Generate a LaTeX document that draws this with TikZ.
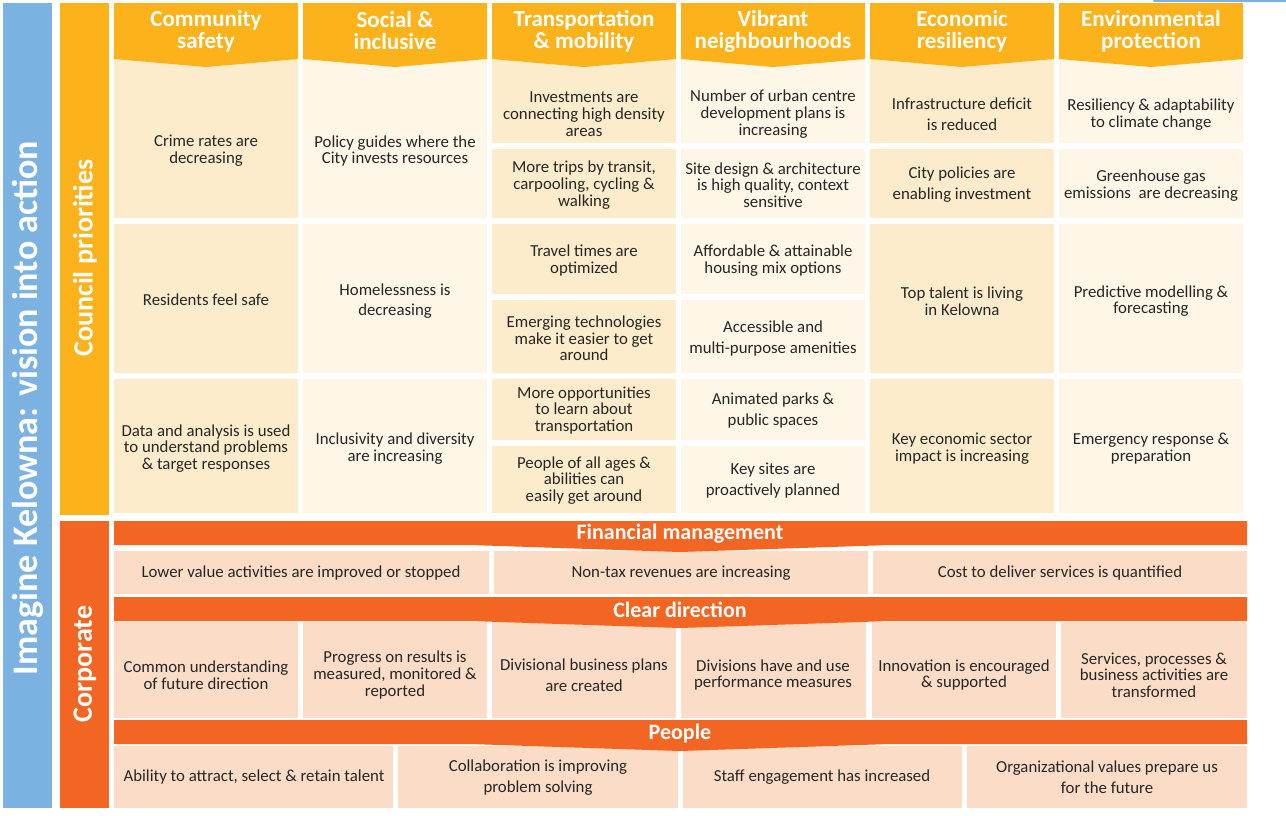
\documentclass[tikz,border=0pt]{standalone}
\usepackage{fontspec}
\setmainfont{Carlito}
\usepackage{tikz}
\usetikzlibrary{positioning}
\definecolor{kblue}{RGB}{123,178,226}
\definecolor{kgold}{RGB}{251,178,27}
\definecolor{korange}{RGB}{242,101,34}
\definecolor{creamdark}{RGB}{253,236,203}
\definecolor{creamlight}{RGB}{254,246,231}
\definecolor{peach}{RGB}{251,220,198}
\definecolor{inkgray}{RGB}{38,38,38}

\tikzset{
  txt/.style={inner sep=0pt, align=center, text=inkgray, font=\fontsize{16.8}{16.7}\selectfont},
  loose/.style={txt, font=\fontsize{16.8}{21}\selectfont},
  headtext/.style={inner sep=0pt, align=center, text=white, font=\bfseries\fontsize{23}{22}\selectfont},
  bandtext/.style={inner sep=0pt, text=white, font=\bfseries\fontsize{22}{22}\selectfont},
  sidetext/.style={inner sep=0pt, text=white, rotate=90, font=\bfseries\fontsize{28}{28}\selectfont},
}

\begin{document}
\begin{tikzpicture}[x=1pt, y=-1pt]
  \useasboundingbox[fill=white] (0,0) rectangle (1286,815);

  % side bars
  \fill[kblue] (3,3) rectangle (52,808);
  \fill[kblue, rounded corners=2pt] (1153,-3) rectangle (1290,2);
  \fill[kgold] (60,3) rectangle (109,515);
  \fill[korange] (60,521) rectangle (109,808);
  \node[sidetext, font=\bfseries\fontsize{36}{36}\selectfont] (vision) at (28,408) {Imagine Kelowna: vision into action};
  \node[sidetext] (council) at (85,258) {Council priorities};
  \node[sidetext] (corporate) at (85,664) {Corporate};

  % council priority cells
  \foreach \x/\c in {114/creamdark, 303/creamlight, 492/creamdark, 681/creamlight, 870/creamdark, 1059/creamlight} {
    \fill[\c] (\x,58) rectangle ++(184,160);
    \fill[\c] (\x,224) rectangle ++(184,149);
    \fill[\c] (\x,379) rectangle ++(184,134);
  }
  % white splits
  \foreach \x in {492, 681, 870, 1059}
    \fill[white] (\x,143) rectangle ++(184,6);
  \foreach \x in {492, 681} {
    \fill[white] (\x,294) rectangle ++(184,6);
    \fill[white] (\x,440) rectangle ++(184,6);
  }

  % headers
  \foreach \x/\name/\t in {114/hsafety/{Community\\safety}, 303/hsocial/{Social \&\\inclusive},
      492/htransport/{Transportation\\\& mobility}, 681/hvibrant/{Vibrant\\neighbourhoods},
      870/heconomic/{Economic\\resiliency}, 1059/henviron/{Environmental\\protection}} {
    \fill[kgold] (\x,3) -- ++(184,0) -- ++(0,56) -- ++(-92,8) -- ++(-92,-8) -- cycle;
    \node[headtext] (\name) at (\x+92,31) {\t};
  }

  % row A
  \node[txt] (crime) at (206,151) {Crime rates are\\decreasing};
  \node[txt] (policy) at (395,151) {Policy guides where the\\City invests resources};
  \node[txt] (invest) at (584,114) {Investments are\\connecting high density\\areas};
  \node[txt] (trips) at (584,185) {More trips by transit,\\carpooling, cycling \&\\walking};
  \node[txt] (urban) at (773,114) {Number of urban centre\\development plans is\\increasing};
  \node[txt] (design) at (773,185) {Site design \& architecture\\is high quality, context\\sensitive};
  \node[loose] (deficit) at (962,114) {Infrastructure deficit\\is reduced};
  \node[loose] (enabling) at (962,185) {City policies are\\enabling investment};
  \node[txt] (climate) at (1151,114.5) {Resiliency \& adaptability\\to climate change};
  \node[txt] (ghg) at (1151,185.5) {Greenhouse gas\\emissions\ \ are decreasing};

  % row B
  \node[txt] (safe) at (206,300) {Residents feel safe};
  \node[txt, font=\fontsize{16.8}{20}\selectfont] (homeless) at (395,301) {Homelessness is\\decreasing};
  \node[txt] (travel) at (584,260.5) {Travel times are\\optimized};
  \node[txt] (emerging) at (584,338.5) {Emerging technologies\\make it easier to get\\around};
  \node[txt] (housing) at (773,260.5) {Affordable \& attainable\\housing mix options};
  \node[loose] (amenities) at (773,338.5) {Accessible and\\multi-purpose amenities};
  \node[txt] (talent) at (962,301) {Top talent is living\\in Kelowna};
  \node[txt] (predict) at (1151,301) {Predictive modelling \&\\forecasting};

  % row C
  \node[txt] (data) at (206,448.5) {Data and analysis is used\\to understand problems\\\& target responses};
  \node[txt] (inclusive) at (395,448.5) {Inclusivity and diversity\\are increasing};
  \node[txt] (learn) at (584,410.5) {More opportunities\\to learn about\\transportation};
  \node[txt] (ages) at (584,480.5) {People of all ages \&\\abilities can\\easily get around};
  \node[loose] (parks) at (773,410.5) {Animated parks \&\\public spaces};
  \node[loose] (sites) at (773,480.5) {Key sites are\\proactively planned};
  \node[txt] (sector) at (962,448.5) {Key economic sector\\impact is increasing};
  \node[txt] (emergency) at (1151,448.5) {Emergency response \&\\preparation};

  % corporate cells
  \fill[peach] (114,551) rectangle (489,594);
  \fill[peach] (494,551) rectangle (868,594);
  \fill[peach] (873,551) rectangle (1247,594);
  \foreach \x/\w in {114/184, 303/184, 492/184, 681/185, 872/184, 1061/186}
    \fill[peach] (\x,622) rectangle ++(\w,96);
  \foreach \x/\w in {114/279, 398/280, 683/279, 967/280}
    \fill[peach] (\x,746) rectangle ++(\w,62);

  % corporate bands
  \foreach \y/\name/\t in {521/bfinance/{Financial management}, 597/bdirection/{Clear direction}, 720/bpeople/{People}} {
    \fill[korange] (114,\y) -- (1247,\y) -- (1247,\y+24) -- (890,\y+24) -- (680,\y+31) -- (470,\y+24) -- (114,\y+24) -- cycle;
    \node[bandtext] (\name) at (680,\y+13) {\t};
  }

  \node[txt] (lower) at (301,573) {Lower value activities are improved or stopped};
  \node[txt] (nontax) at (681,573) {Non-tax revenues are increasing};
  \node[txt] (cost) at (1060,573) {Cost to deliver services is quantified};

  \node[txt] (common) at (206,675.5) {Common understanding\\of future direction};
  \node[txt] (progress) at (395,675) {Progress on results is\\measured, monitored \&\\reported};
  \node[loose] (plans) at (584,675) {Divisional business plans\\are created};
  \node[txt] (measures) at (773,675) {Divisions have and use\\performance measures};
  \node[txt] (innovation) at (964,675) {Innovation is encouraged\\\& supported};
  \node[txt] (services) at (1154,675) {Services, processes \&\\business activities are\\transformed};

  \node[txt] (attract) at (254,777) {Ability to attract, select \& retain talent};
  \node[loose] (collab) at (538,777.5) {Collaboration is improving\\problem solving};
  \node[txt] (staff) at (822,777) {Staff engagement has increased};
  \node[loose] (values) at (1107,777.5) {Organizational values prepare us\\for the future};
\end{tikzpicture}
\end{document}
